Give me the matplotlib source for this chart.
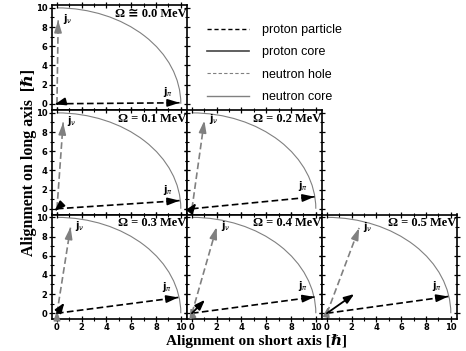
import numpy as np
import matplotlib.pyplot as plt
from matplotlib.patches import Arc
from matplotlib.lines import Line2D
from matplotlib.ticker import MultipleLocator

# Dados
omega = ['Ω ≅ 0.0 MeV', 'Ω = 0.1 MeV', 'Ω = 0.2 MeV',
         'Ω = 0.3 MeV', 'Ω = 0.4 MeV', 'Ω = 0.5 MeV']
# proton particle (ponta da seta)
pp_x = [9.9, 9.9, 9.9, 9.8, 9.9, 9.8]
pp_y = [0.1, 0.85, 1.25, 1.65, 1.7, 1.75]
# neutron hole
nh_x = [0.1, 0.5, 1.0, 1.1, 2.0, 2.6]
nh_y = [8.7, 9.0, 9.2, 9.0, 9.0, 8.9]
# proton core
pc_x = [-0.15, -0.2, 0.35, 0.6, 1.05, 2.2]
pc_y = [-0.05, -0.25, 0.6, 1.1, 1.4, 2.0]
# neutron core
nc_x = [0.0, 0.0, 0.0, 0.0, -0.1, 0.1]
nc_y = [0.0, 0.0, 0.0, 0.3, 0.6, 0.7]
raio = 10  # circulo do nucleo

painel = [(0, 0), (1, 0), (1, 1), (2, 0), (2, 1), (2, 2)]
cinza = '#808080'
serif = ['Liberation Serif', 'DejaVu Serif', 'DejaVu Sans']

fig = plt.figure(figsize=(4.66, 3.51), dpi=100)
W, H = 466, 351
lefts = [52, 187, 322]
bottoms = [109.5, 214.5, 319]


def seta(ax, x, y, cor, ls, lw):
    ax.plot([0, x], [0, y], color=cor, ls=ls, lw=lw)
    ax.annotate('', xy=(x, y), xytext=(0.9 * x, 0.9 * y),
                arrowprops=dict(arrowstyle='-|>,head_length=0.7,head_width=0.22',
                                color=cor, lw=lw, shrinkA=0, shrinkB=0))


for i, (r, c) in enumerate(painel):
    ax = fig.add_axes([lefts[c] / W, 1 - bottoms[r] / H, 135 / W, 104.5 / H])
    ax.set_xlim(-0.4, 10.5)
    ax.set_ylim(-0.6, 10.3)
    ax.xaxis.set_major_locator(MultipleLocator(2))
    ax.xaxis.set_minor_locator(MultipleLocator(1))
    ax.yaxis.set_major_locator(MultipleLocator(2))
    ax.yaxis.set_minor_locator(MultipleLocator(1))
    ax.tick_params(which='both', direction='inout', top=True, right=True,
                   labelsize=6, pad=0.6)
    ax.tick_params(which='major', length=5, width=0.9)
    ax.tick_params(which='minor', length=3, width=0.8)
    for t in ax.get_xticklabels() + ax.get_yticklabels():
        t.set_fontweight('bold')
    if c != 0:
        ax.set_yticklabels([])
    if r != 2:
        ax.set_xticklabels([])
    for s in ax.spines.values():
        s.set_linewidth(1.2)

    ax.add_patch(Arc((0, 0), 2 * raio, 2 * raio, theta1=0, theta2=90,
                     color=cinza, lw=0.8))
    seta(ax, pp_x[i], pp_y[i], 'black', (0, (4, 2)), 1.2)
    seta(ax, nh_x[i], nh_y[i], cinza, (0, (4, 2)), 1.2)
    if abs(nc_x[i]) + abs(nc_y[i]) > 0:
        ax.annotate('', xy=(nc_x[i], nc_y[i]), xytext=(0, 0),
                    arrowprops=dict(arrowstyle='-|>,head_length=0.6,head_width=0.2',
                                    color=cinza, lw=1, shrinkA=0, shrinkB=0))
    ax.annotate('', xy=(pc_x[i], pc_y[i]), xytext=(0, 0),
                arrowprops=dict(arrowstyle='-|>,head_length=0.6,head_width=0.22',
                                color='black', lw=1.3, shrinkA=0, shrinkB=0))

    ax.text(nh_x[i] + 0.35, nh_y[i] - 0.2, r'$\mathbf{j}_\nu$', fontsize=7)
    ax.text(pp_x[i] - 1.3, pp_y[i] + 0.8, r'$\mathbf{j}_\pi$', fontsize=7)
    ax.text(10.45, 9.1, omega[i], ha='right', fontsize=9, fontweight='bold',
            family=serif)

leg = [Line2D([], [], color='black', ls=(0, (3, 2)), lw=1),
       Line2D([], [], color='#444444', lw=1.2),
       Line2D([], [], color=cinza, ls=(0, (3, 2)), lw=0.8),
       Line2D([], [], color=cinza, lw=1)]
fig.legend(leg, ['proton particle', 'proton core', 'neutron hole', 'neutron core'],
           loc='upper left', bbox_to_anchor=(196 / W, 1 - 13 / H), frameon=False,
           handlelength=3.3, handletextpad=1.1, labelspacing=0.82,
           prop={'family': 'Liberation Sans', 'size': 9})

fig.text(256 / W, 1 - 345 / H, 'Alignment on short axis [ℏ]', ha='center', va='baseline',
         fontsize=11, fontweight='bold', family=serif)
fig.text(29 / W, 1 - 162 / H, 'Alignment on long axis  [ℏ]', ha='center', va='center',
         rotation=90, fontsize=11.5, fontweight='bold', family=serif)

fig.savefig('out.png', dpi=100)
